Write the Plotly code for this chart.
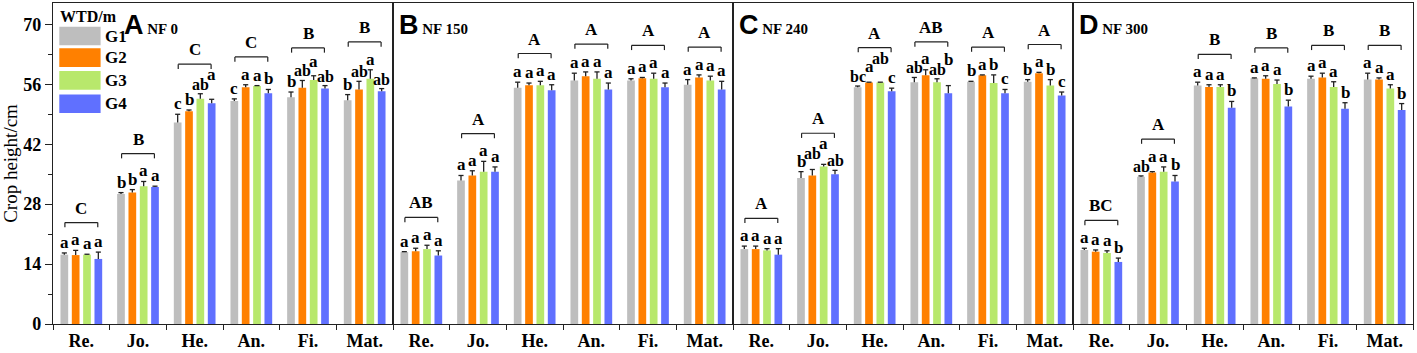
import plotly.graph_objects as go
from plotly.subplots import make_subplots

stages = ["Re.", "Jo.", "He.", "An.", "Fi.", "Mat."]
groups = ["G1", "G2", "G3", "G4"]
panel_tags = ["A", "B", "C", "D"]
panel_names = ["NF 0", "NF 150", "NF 240", "NF 300"]
colors = ["#bebebe", "#ff8000", "#b8e86c", "#6070ff"]

# crop height, [group][stage]
nf0_height = [[16.2, 30.4, 47.1, 52.1, 53.0, 52.3],
              [16.1, 30.7, 49.7, 55.3, 55.2, 54.8],
              [16.2, 32.2, 52.6, 55.6, 57.0, 57.3],
              [15.2, 32.0, 51.6, 53.9, 55.0, 54.4]]
nf0_err = [[0.4, 0.3, 1.9, 0.5, 1.2, 1.3],
           [1.1, 0.7, 0.3, 0.6, 1.7, 1.9],
           [0.1, 1.1, 1.2, 0.1, 1.0, 2.1],
           [1.6, 0.2, 0.9, 0.9, 0.7, 0.6]]
nf150_height = [[16.8, 33.5, 55.2, 56.9, 56.9, 55.9],
                [17.0, 34.7, 55.8, 57.9, 57.4, 57.6],
                [17.5, 35.6, 55.8, 57.3, 57.3, 56.9],
                [16.0, 35.6, 54.6, 54.8, 55.3, 54.8]]
nf150_err = [[0.1, 1.2, 1.3, 1.7, 0.4, 1.2],
             [0.7, 1.1, 0.5, 1.0, 0.2, 0.6],
             [0.9, 2.4, 0.9, 1.6, 1.3, 1.0],
             [1.1, 1.1, 1.3, 1.5, 1.0, 1.9]]
nf240_height = [[17.5, 34.1, 55.3, 56.5, 56.6, 56.6],
                [17.5, 34.7, 56.4, 58.1, 58.1, 58.6],
                [17.2, 36.8, 56.4, 56.5, 56.3, 55.7],
                [16.2, 35.0, 54.4, 53.9, 53.9, 53.4]]
nf240_err = [[0.7, 1.5, 0.3, 1.1, 0.1, 0.5],
             [0.7, 1.4, 0.1, 1.3, 0.1, 0.2],
             [0.4, 0.5, 0.1, 0.8, 1.9, 1.4],
             [1.4, 0.9, 0.7, 1.8, 0.9, 0.8]]
nf300_height = [[17.3, 34.4, 55.7, 57.4, 57.3, 57.1],
                [16.9, 35.4, 55.4, 57.3, 57.6, 57.1],
                [16.6, 35.6, 55.4, 56.1, 55.4, 55.0],
                [14.5, 33.3, 50.5, 50.8, 50.3, 50.0]]
nf300_err = [[0.4, 0.2, 0.8, 0.1, 0.6, 1.5],
             [0.4, 0.2, 0.5, 0.7, 1.0, 0.4],
             [0.5, 1.1, 0.5, 0.9, 1.2, 0.9],
             [0.9, 1.4, 1.5, 1.5, 1.4, 1.5]]

# significance letters, [stage][group]
nf0_letters = [["a", "a", "a", "a"], ["b", "b", "a", "a"], ["c", "b", "ab", "a"],
               ["c", "a", "a", "b"], ["b", "ab", "a", "ab"], ["b", "ab", "a", "ab"]]
nf150_letters = [["a", "a", "a", "a"]] * 6
nf240_letters = [["a", "a", "a", "a"], ["b", "ab", "a", "ab"], ["bc", "a", "ab", "c"],
                 ["ab", "a", "ab", "b"], ["b", "a", "b", "c"], ["b", "a", "b", "c"]]
nf300_letters = [["a", "a", "a", "b"], ["ab", "a", "a", "b"], ["a", "a", "a", "b"],
                 ["a", "a", "a", "b"], ["a", "a", "a", "b"], ["a", "a", "a", "b"]]
nf0_group = ["C", "B", "C", "C", "B", "B"]
nf150_group = ["AB", "A", "A", "A", "A", "A"]
nf240_group = ["A", "A", "A", "AB", "A", "A"]
nf300_group = ["BC", "A", "B", "B", "B", "B"]

heights = [nf0_height, nf150_height, nf240_height, nf300_height]
errors = [nf0_err, nf150_err, nf240_err, nf300_err]
letters = [nf0_letters, nf150_letters, nf240_letters, nf300_letters]
group_letters = [nf0_group, nf150_group, nf240_group, nf300_group]

SERIF = "Liberation Serif"
BARGAP = 0.2
BARGROUPGAP = 0.32
LINE = "#222222"
YMAX = 75
PLOT_H = 353 - 2 - 25
PX_PER_UNIT = PLOT_H / YMAX
PX_PER_CAT = (1417 - 53 - 4) / 4 / 6

fig = make_subplots(rows=1, cols=4, shared_yaxes=True, horizontal_spacing=0)

shapes = []
annotations = []
slot = (1 - BARGAP) / 4


def label_size(t):
    return 17 if len(t) == 1 else 16


for p in range(4):
    col = p + 1
    xr = "x" if p == 0 else f"x{col}"
    yr = "y" if p == 0 else f"y{col}"
    for g in range(4):
        fig.add_trace(go.Bar(
            x=stages, y=heights[p][g], name=groups[g],
            marker=dict(color=colors[g], line=dict(width=0)),
            error_y=dict(type="data", array=errors[p][g], arrayminus=[0] * 6,
                         symmetric=False, color=LINE, thickness=1.3, width=0),
            showlegend=False,
        ), row=1, col=col)
    for s in range(6):
        tops = []
        bottoms_px = []
        prev = None
        for g in range(4):
            xc = s - (1 - BARGAP) / 2 + slot * (g + 0.5)
            top = heights[p][g][s] + errors[p][g][s]
            tops.append(top)
            shapes.append(dict(type="line", xref=xr, yref=yr, x0=xc - 0.045, x1=xc + 0.045,
                               y0=top, y1=top, line=dict(color=LINE, width=1.3)))
            txt = letters[p][s][g]
            size = label_size(txt)
            w = 0.52 * size * len(txt)
            b = top * PX_PER_UNIT + 1
            if prev is not None:
                pxc, pw, pb = prev
                if abs(xc - pxc) * PX_PER_CAT < (w + pw) / 2 - 1 and abs(b - pb) < 9:
                    b = pb + 9
            prev = (xc, w, b)
            bottoms_px.append(b)
            annotations.append(dict(xref=xr, yref=yr, x=xc, y=top, text=txt,
                                    showarrow=False, yanchor="bottom", xanchor="center",
                                    yshift=b - top * PX_PER_UNIT - 2,
                                    font=dict(family=SERIF, size=size, color="black", weight=700)))
        by = max(max(tops) + 6.5, (max(bottoms_px) + 20) / PX_PER_UNIT)
        x0 = s - 0.29
        x1 = s + 0.29
        shapes.append(dict(type="line", xref=xr, yref=yr, x0=x0, x1=x1, y0=by, y1=by,
                           line=dict(color=LINE, width=1.2)))
        shapes.append(dict(type="line", xref=xr, yref=yr, x0=x0, x1=x0, y0=by, y1=by - 1.1,
                           line=dict(color=LINE, width=1.2)))
        shapes.append(dict(type="line", xref=xr, yref=yr, x0=x1, x1=x1, y0=by, y1=by - 1.1,
                           line=dict(color=LINE, width=1.2)))
        annotations.append(dict(xref=xr, yref=yr, x=s, y=by, text=group_letters[p][s],
                                showarrow=False, yanchor="bottom", xanchor="center", yshift=3,
                                font=dict(family=SERIF, size=17, color="black", weight=700)))
    # panel tag
    tx = 0.203 if p == 0 else 0.012
    annotations.append(dict(
        xref=f"{xr} domain", yref=f"{yr} domain", x=tx, y=0.985, xanchor="left", yanchor="top",
        showarrow=False,
        text=f"<b>{panel_tags[p]}</b><span style='font-family:{SERIF};font-size:15px'><b> {panel_names[p]}</b></span>",
        font=dict(family="Liberation Sans", size=27, color="black")))

    fig.update_xaxes(
        row=1, col=col, type="category", range=[-0.5, 5.5],
        showline=True, mirror=True, linecolor=LINE, linewidth=1.3,
        ticks="outside", tickson="boundaries", ticklen=5, tickcolor=LINE,
        tickfont=dict(family=SERIF, size=18, color="black", weight=700),
        showgrid=False, zeroline=False,
    )
    fig.update_yaxes(
        row=1, col=col, range=[0, YMAX], showline=True, mirror=True, linecolor=LINE, linewidth=1.3,
        showgrid=False, zeroline=False,
    )

fig.update_yaxes(
    row=1, col=1, tickmode="array", tickvals=[0, 14, 28, 42, 56, 70],
    ticks="outside", ticklen=7, tickcolor=LINE, tickwidth=1.2,
    minor=dict(tickvals=[7, 21, 35, 49, 63], ticks="outside", ticklen=4, tickcolor=LINE),
    tickfont=dict(family=SERIF, size=18, color="black", weight=700),
    title=dict(text="Crop height/cm", font=dict(family=SERIF, size=19, color="black"), standoff=4),
)
for c in range(2, 5):
    fig.update_yaxes(row=1, col=c, showticklabels=False, ticks="")

# legend (drawn in panel A)
annotations.append(dict(xref="x domain", yref="y domain", x=0.016, y=0.99, xanchor="left",
                        yanchor="top", showarrow=False, text="<b>WTD/m</b>",
                        font=dict(family=SERIF, size=16, color="black")))
ycent = [0.897, 0.830, 0.759, 0.686]
for g in range(4):
    shapes.append(dict(type="rect", xref="x domain", yref="y domain", x0=0.0185, x1=0.140,
                       y0=ycent[g] - 0.029, y1=ycent[g] + 0.029, fillcolor=colors[g],
                       line=dict(width=0)))
    annotations.append(dict(xref="x domain", yref="y domain", x=0.146, y=ycent[g],
                            xanchor="left", yanchor="middle", showarrow=False,
                            text=f"<b>{groups[g]}</b>",
                            font=dict(family=SERIF, size=17, color="black")))

fig.update_layout(
    width=1417, height=353,
    margin=dict(l=53, r=4, t=2, b=25),
    barmode="group", bargap=BARGAP, bargroupgap=BARGROUPGAP,
    plot_bgcolor="white", paper_bgcolor="white",
    shapes=shapes, annotations=annotations,
    showlegend=False,
)

fig.write_html("out.html", config={"displayModeBar": False},
               post_script="document.body.style.margin='0px';document.body.style.overflow='hidden';")
